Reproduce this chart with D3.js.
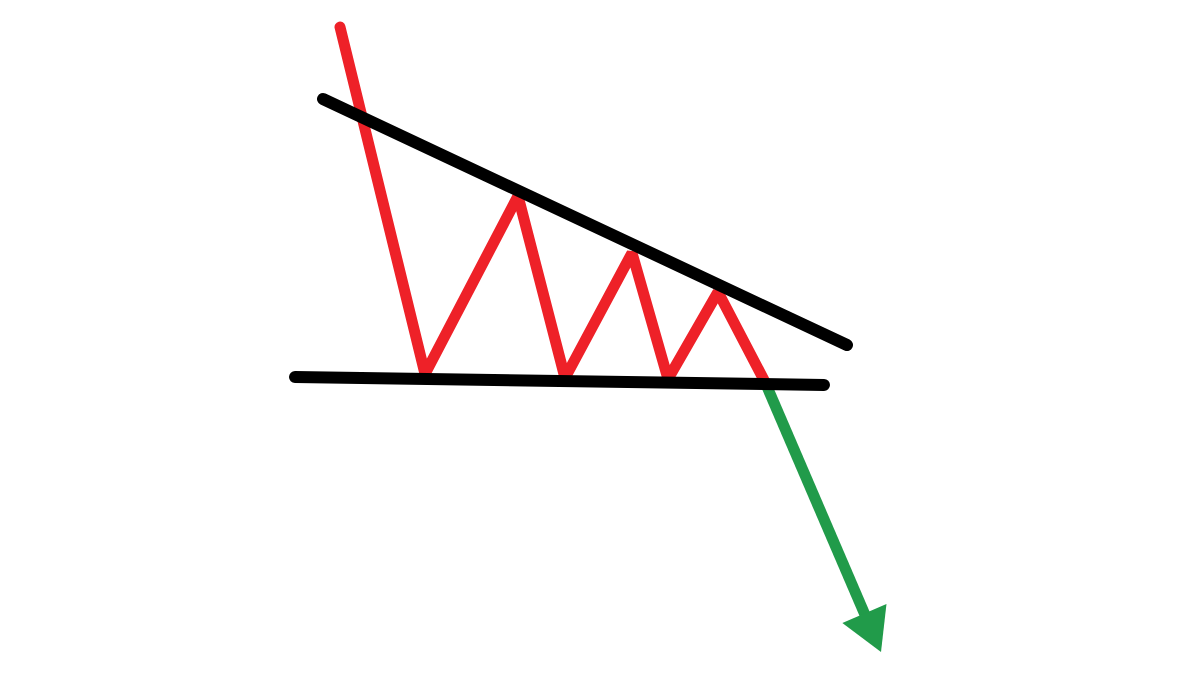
<!DOCTYPE html>
<html>
<head>
<meta charset="utf-8">
<script src="https://cdn.jsdelivr.net/npm/d3@7"></script>
<style>
  html, body { margin: 0; padding: 0; background: #fff; }
</style>
</head>
<body>
<div id="chart"></div>
<script>
const width = 1200;
const height = 700;

// price swings inside the pattern (time index, price)
const swingTime = [340, 425, 518, 565, 632, 668, 718, 765];
const swingPrice = [673, 326, 504, 322, 447, 321, 408, 318];

// breakout move
const breakTime = [765, 881];
const breakPrice = [318, 48];

// trend lines
const resistTime = [323, 847];
const resistPrice = [601, 355];
const supportTime = [295, 824];
const supportPrice = [323, 315];

const x = d3.scaleLinear().domain([0, 1200]).range([0, width]);
const y = d3.scaleLinear().domain([0, 700]).range([height, 0]);

const svg = d3.select('#chart').append('svg')
  .attr('width', width)
  .attr('height', height);

const line = d3.line()
  .x(d => x(d[0]))
  .y(d => y(d[1]));

const zip = (a, b) => a.map((v, i) => [v, b[i]]);

// red zigzag
svg.append('path')
  .attr('d', line(zip(swingTime, swingPrice)))
  .attr('fill', 'none')
  .attr('stroke', '#ee2128')
  .attr('stroke-width', 11)
  .attr('stroke-linecap', 'round')
  .attr('stroke-linejoin', 'miter')
  .attr('stroke-miterlimit', 2);

// green breakout arrow
const b = zip(breakTime, breakPrice);
const x0 = x(b[0][0]), y0 = y(b[0][1]);
const x1 = x(b[1][0]), y1 = y(b[1][1]);
const len = Math.hypot(x1 - x0, y1 - y0);
const ux = (x1 - x0) / len, uy = (y1 - y0) / len;
const headLen = 42, headHalf = 24;
const bx = x1 - ux * headLen, by = y1 - uy * headLen;

svg.append('line')
  .attr('x1', x0).attr('y1', y0)
  .attr('x2', bx + ux * 4).attr('y2', by + uy * 4)
  .attr('stroke', '#219b4a')
  .attr('stroke-width', 11);

svg.append('path')
  .attr('d', 'M' + x1 + ',' + y1 +
    'L' + (bx - uy * headHalf) + ',' + (by + ux * headHalf) +
    'L' + (bx + uy * headHalf) + ',' + (by - ux * headHalf) + 'Z')
  .attr('fill', '#219b4a');

// black trend lines
[[resistTime, resistPrice], [supportTime, supportPrice]].forEach(([t, p]) => {
  svg.append('path')
    .attr('d', line(zip(t, p)))
    .attr('fill', 'none')
    .attr('stroke', '#000')
    .attr('stroke-width', 12)
    .attr('stroke-linecap', 'round');
});
</script>
</body>
</html>
